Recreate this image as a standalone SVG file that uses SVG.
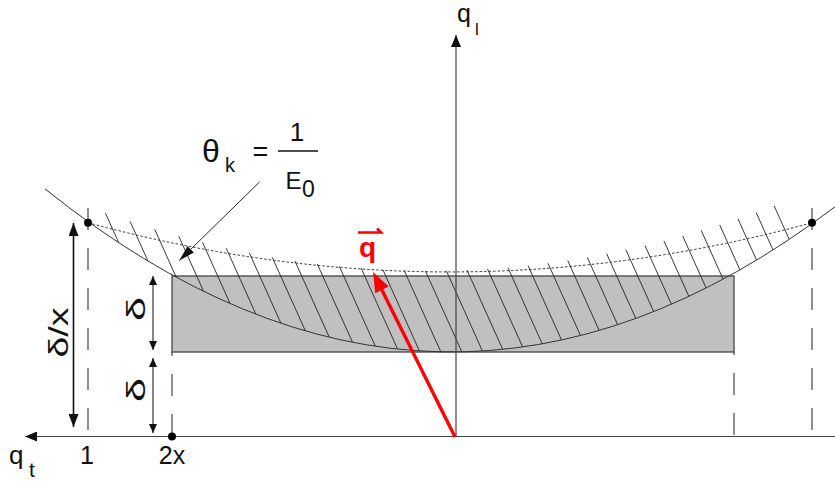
<svg xmlns="http://www.w3.org/2000/svg" width="835" height="481" viewBox="0 0 835 481">
<style>
.ax{stroke:#444;stroke-width:1.2;fill:none}
.crv{stroke:#333;stroke-width:1;fill:none}
.dot{stroke:#333;stroke-width:1;fill:none;stroke-dasharray:2.5 2}
.hat{stroke:#222;stroke-width:0.9}
.dash{stroke:#333;stroke-width:1.1;stroke-dasharray:22 18;fill:none}
.dim{stroke:#111;fill:none}
.t{font-family:"Liberation Sans",Arial,sans-serif;fill:#111}
</style>
<defs>
<marker id="axh" viewBox="0 0 12 10" refX="12" refY="5" markerWidth="12" markerHeight="10" markerUnits="userSpaceOnUse" orient="auto"><path d="M0,0L12,5L0,10z" fill="#111"/></marker>
<marker id="bigh" viewBox="0 0 13 10" refX="13" refY="5" markerWidth="13" markerHeight="10" markerUnits="userSpaceOnUse" orient="auto-start-reverse"><path d="M0,0L13,5L0,10z" fill="#111"/></marker>
<marker id="smh" viewBox="0 0 9 8" refX="9" refY="4" markerWidth="9" markerHeight="8" markerUnits="userSpaceOnUse" orient="auto-start-reverse"><path d="M0,0L9,4L0,8z" fill="#111"/></marker>
<marker id="ldh" viewBox="0 0 16 9" refX="16" refY="4.5" markerWidth="16" markerHeight="9" markerUnits="userSpaceOnUse" orient="auto"><path d="M0,0L16,4.5L0,9z" fill="#111"/></marker>
<marker id="redh" viewBox="0 0 20 15" refX="14" refY="7.5" markerWidth="20" markerHeight="15" markerUnits="userSpaceOnUse" orient="auto"><path d="M0,0L20,7.5L0,15z" fill="#f00"/></marker>
<clipPath id="band"><path d="M60,195.7 Q445,352.4 830,183 L835,206.8 Q440,505.8 45,188.9 Z"/></clipPath>
</defs>

<g id="rect"><rect x="172" y="276" width="562" height="76" fill="#c0c0c0" stroke="#444" stroke-width="1.3"/></g>

<g id="hatch" clip-path="url(#band)" class="hat">
<line x1="77" y1="150" x2="189.5" y2="400"/><line x1="98" y1="150" x2="210.5" y2="400"/><line x1="119" y1="150" x2="231.5" y2="400"/><line x1="140" y1="150" x2="252.5" y2="400"/>
<line x1="161" y1="150" x2="273.5" y2="400"/><line x1="182" y1="150" x2="294.5" y2="400"/><line x1="203" y1="150" x2="315.5" y2="400"/><line x1="224" y1="150" x2="336.5" y2="400"/>
<line x1="245" y1="150" x2="357.5" y2="400"/><line x1="266" y1="150" x2="378.5" y2="400"/><line x1="287" y1="150" x2="399.5" y2="400"/><line x1="308" y1="150" x2="420.5" y2="400"/>
<line x1="329" y1="150" x2="441.5" y2="400"/><line x1="350" y1="150" x2="462.5" y2="400"/><line x1="371" y1="150" x2="483.5" y2="400"/><line x1="392" y1="150" x2="504.5" y2="400"/>
<line x1="413" y1="150" x2="525.5" y2="400"/><line x1="434" y1="150" x2="546.5" y2="400"/><line x1="455" y1="150" x2="567.5" y2="400"/><line x1="476" y1="150" x2="588.5" y2="400"/>
<line x1="497" y1="150" x2="609.5" y2="400"/><line x1="518" y1="150" x2="630.5" y2="400"/><line x1="539" y1="150" x2="651.5" y2="400"/><line x1="560" y1="150" x2="672.5" y2="400"/>
<line x1="581" y1="150" x2="693.5" y2="400"/><line x1="602" y1="150" x2="714.5" y2="400"/><line x1="623" y1="150" x2="735.5" y2="400"/><line x1="644" y1="150" x2="756.5" y2="400"/>
<line x1="665" y1="150" x2="777.5" y2="400"/><line x1="686" y1="150" x2="798.5" y2="400"/><line x1="707" y1="150" x2="819.5" y2="400"/><line x1="728" y1="150" x2="840.5" y2="400"/>
<line x1="749" y1="150" x2="861.5" y2="400"/>
</g>

<g id="curves">
<path class="crv" d="M45,188.9 Q440,505.8 835,206.8"/>
<path class="dot" d="M88,222.7 Q450,321.2 812,222.7"/>
</g>

<g id="dashes">
<path class="dash" d="M88,430 V208"/>
<path class="dash" d="M812,430 V208"/>
<path class="dash" d="M172,436 V352"/>
<path class="dash" d="M734,435 V352"/>
</g>

<g id="axes">
<line class="ax" x1="835" y1="436.5" x2="25" y2="436.5" marker-end="url(#axh)"/>
<line class="ax" x1="456" y1="436.5" x2="456" y2="35" marker-end="url(#axh)"/>
</g>

<g id="points" fill="#000">
<circle cx="88" cy="222.7" r="4"/><circle cx="812" cy="222.7" r="4"/><circle cx="172" cy="436.5" r="4"/>
</g>

<g id="connectors">
<line class="dim" stroke-width="1.6" x1="73.5" y1="223" x2="73.5" y2="427" marker-start="url(#bigh)" marker-end="url(#bigh)"/>
<line class="dim" stroke-width="1" x1="153" y1="276" x2="153" y2="350" marker-start="url(#smh)" marker-end="url(#smh)"/>
<line class="dim" stroke-width="1" x1="153" y1="358" x2="153" y2="433" marker-start="url(#smh)" marker-end="url(#smh)"/>
<line class="dim" stroke-width="0.9" x1="259.5" y1="182" x2="179.3" y2="260.5" marker-end="url(#ldh)"/>
<line stroke="#f00" stroke-width="3.4" x1="455" y1="437" x2="375.7" y2="277.4" marker-end="url(#redh)"/>
</g>

<g id="labels">
<text class="t" font-size="25" x="457" y="22">q</text>
<text class="t" font-size="17" x="475" y="35">l</text>
<text class="t" font-size="26" x="9" y="464">q</text>
<text class="t" font-size="21" x="29" y="477">t</text>
<text class="t" font-size="25" x="87" y="463.5" text-anchor="middle">1</text>
<text class="t" font-size="25" x="172" y="463.5" text-anchor="middle">2x</text>
<text class="t" font-size="32" x="202" y="161.5">θ</text>
<text class="t" font-size="20" x="225" y="172">k</text>
<text class="t" font-size="27" x="260.5" y="160.5" text-anchor="middle">=</text>
<line x1="278" y1="151" x2="318" y2="151" stroke="#111" stroke-width="1.3"/>
<text class="t" font-size="26" x="297" y="140.5" text-anchor="middle">1</text>
<text class="t" font-size="24" x="285.5" y="188.5">E</text>
<text class="t" font-size="23" x="302" y="197">0</text>
<text class="t" font-size="28" transform="translate(68,332.5) rotate(-90)" text-anchor="middle" textLength="50" lengthAdjust="spacingAndGlyphs">δ/x</text>
<text class="t" font-size="26" transform="translate(145,309) rotate(-90)" text-anchor="middle" textLength="24" lengthAdjust="spacingAndGlyphs">δ</text>
<text class="t" font-size="26" transform="translate(145,390) rotate(-90)" text-anchor="middle" textLength="24" lengthAdjust="spacingAndGlyphs">δ</text>
<g id="qvec">
<text font-family="'Liberation Sans',Arial,sans-serif" font-weight="bold" font-size="28" fill="#f00" x="359" y="256.5">q</text>
<path d="M358,232.5 H381 L377,228.5" stroke="#f00" stroke-width="2.6" fill="none"/>
</g>
</g>
</svg>
